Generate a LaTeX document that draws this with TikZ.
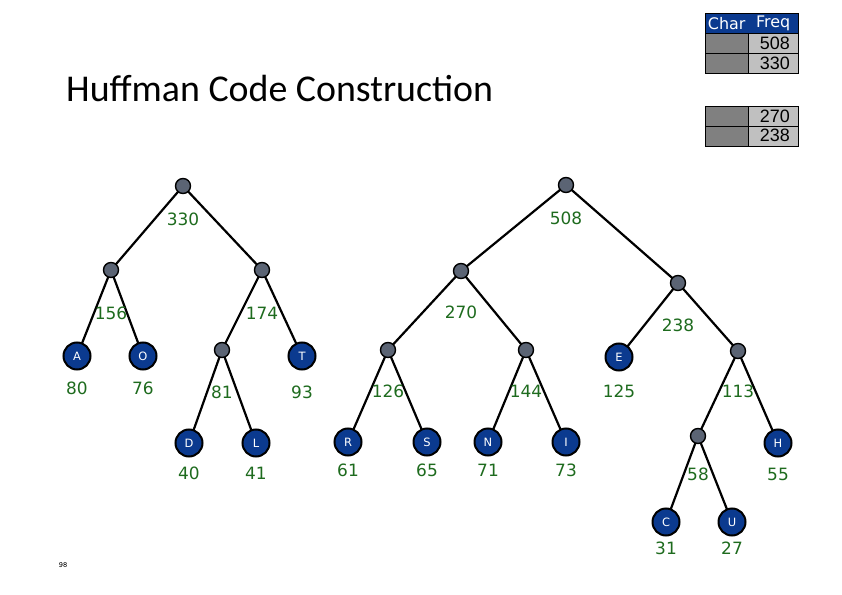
\documentclass[tikz,border=0pt]{standalone}
\usepackage{fontspec}
\usetikzlibrary{backgrounds}
\setmainfont{Carlito}
\newfontfamily\lblfont{DejaVu Sans}
\newfontfamily\numfont{Liberation Sans}
\definecolor{leafblue}{HTML}{0B3A8F}
\definecolor{inner}{HTML}{5B6474}
\definecolor{lblgreen}{HTML}{1E6B1E}
\definecolor{hdrblue}{HTML}{0B3A8F}
\definecolor{dgray}{HTML}{808080}
\definecolor{lgray}{HTML}{C0C0C0}
\begin{document}
\begin{tikzpicture}[x=1bp,y=-1bp,
  leaf/.style={circle,draw=black,line width=2bp,fill=leafblue,minimum size=27bp,inner sep=0pt,text=white,font=\lblfont\fontsize{11.5}{11.5}\selectfont},
  inode/.style={circle,draw=black,line width=1.4bp,fill=inner,minimum size=15bp,inner sep=0pt},
  wt/.style={text=lblgreen,font=\lblfont\fontsize{17}{17}\selectfont},
  edge/.style={draw=black,line width=2.2bp},
  cellA/.style={draw=black,line width=0.8bp,fill=dgray,minimum width=43bp,minimum height=20bp,inner sep=0pt,anchor=north west},
  cellB/.style={draw=black,line width=0.8bp,fill=lgray,minimum width=50bp,minimum height=20bp,inner sep=0pt,anchor=north west},
  num/.style={anchor=east,inner sep=0pt,font=\numfont\fontsize{18}{18}\selectfont},
  hdr/.style={fill=hdrblue,minimum height=20bp,inner sep=0pt,anchor=north west,text=white,font=\lblfont\fontsize{16}{16}\selectfont}
]
\useasboundingbox (0,0) rectangle (842,595);
\begin{scope}[on background layer]
\fill[white] (0,0) rectangle (842,595);
\end{scope}

% title
\node[anchor=base west,inner sep=0pt,font=\fontsize{38}{40}\selectfont] (title) at (66,102) {Huffman Code Construction};
\node[inner sep=0pt,font=\ttfamily\bfseries\fontsize{8}{8}\selectfont] (pg) at (63,565) {98};

% table
\node[hdr,minimum width=43bp] (h1) at (705,13) {Char};
\node[hdr,minimum width=50bp] (h2) at (748,13) {Freq};
\node[cellA] (a1) at (705,33) {};
\node[cellB] (b1) at (748,33) {};
\node[cellA] (a2) at (705,53) {};
\node[cellB] (b2) at (748,53) {};
\node[num] (t508) at (790,43) {508};
\node[num] (t330) at (790,63) {330};
\draw[black,line width=0.8bp] (h1.north west) rectangle (b2.south east);
\node[cellA] (a3) at (705,106) {};
\node[cellB] (b3) at (748,106) {};
\node[cellA] (a4) at (705,126) {};
\node[cellB] (b4) at (748,126) {};
\node[num] (t270) at (790,116) {270};
\node[num] (t238) at (790,135) {238};

% nodes
\node[inode] (n330) at (183,186) {};
\node[inode] (n156) at (111,270) {};
\node[inode] (n174) at (262,270) {};
\node[inode] (n81) at (222,350) {};
\node[leaf] (A) at (77,356) {A};
\node[leaf] (O) at (143,356) {O};
\node[leaf] (T) at (302,356) {T};
\node[leaf] (D) at (189,443) {D};
\node[leaf] (L) at (256,443) {L};

\node[inode] (n508) at (566,185) {};
\node[inode] (n270) at (461,271) {};
\node[inode] (n238) at (678,283) {};
\node[inode] (n126) at (388,350) {};
\node[inode] (n144) at (526,350) {};
\node[inode] (n113) at (738,351) {};
\node[inode] (n58) at (698,436) {};
\node[leaf] (E) at (619,357) {E};
\node[leaf] (R) at (348,442) {R};
\node[leaf] (S) at (427,442) {S};
\node[leaf] (N) at (488,442) {N};
\node[leaf] (I) at (566,442) {I};
\node[leaf] (H) at (778,443) {H};
\node[leaf] (C) at (666,522) {C};
\node[leaf] (U) at (732,522) {U};

% edges
\begin{scope}[on background layer]
\draw[edge] (n330.center) -- (n156.center) (n330.center) -- (n174.center)
  (n156.center) -- (A.center) (n156.center) -- (O.center)
  (n174.center) -- (n81.center) (n174.center) -- (T.center)
  (n81.center) -- (D.center) (n81.center) -- (L.center)
  (n508.center) -- (n270.center) (n508.center) -- (n238.center)
  (n270.center) -- (n126.center) (n270.center) -- (n144.center)
  (n126.center) -- (R.center) (n126.center) -- (S.center)
  (n144.center) -- (N.center) (n144.center) -- (I.center)
  (n238.center) -- (E.center) (n238.center) -- (n113.center)
  (n113.center) -- (n58.center) (n113.center) -- (H.center)
  (n58.center) -- (C.center) (n58.center) -- (U.center);
\end{scope}

% weights
\node[wt] (w330) at (183,219) {330};
\node[wt] (w156) at (111,313) {156};
\node[wt] (w174) at (262,313) {174};
\node[wt] (w80) at (77,388) {80};
\node[wt] (w76) at (143,388) {76};
\node[wt] (w81) at (222,392) {81};
\node[wt] (w93) at (302,392) {93};
\node[wt] (w40) at (189,473) {40};
\node[wt] (w41) at (256,473) {41};
\node[wt] (w508) at (566,218) {508};
\node[wt] (w270) at (461,312) {270};
\node[wt] (w238) at (678,325) {238};
\node[wt] (w126) at (388,391) {126};
\node[wt] (w144) at (526,391) {144};
\node[wt] (w125) at (619,391) {125};
\node[wt] (w113) at (738,391) {113};
\node[wt] (w61) at (348,470) {61};
\node[wt] (w65) at (427,470) {65};
\node[wt] (w71) at (488,470) {71};
\node[wt] (w73) at (566,470) {73};
\node[wt] (w58) at (698,474) {58};
\node[wt] (w55) at (778,474) {55};
\node[wt] (w31) at (666,548) {31};
\node[wt] (w27) at (732,548) {27};
\end{tikzpicture}
\end{document}
